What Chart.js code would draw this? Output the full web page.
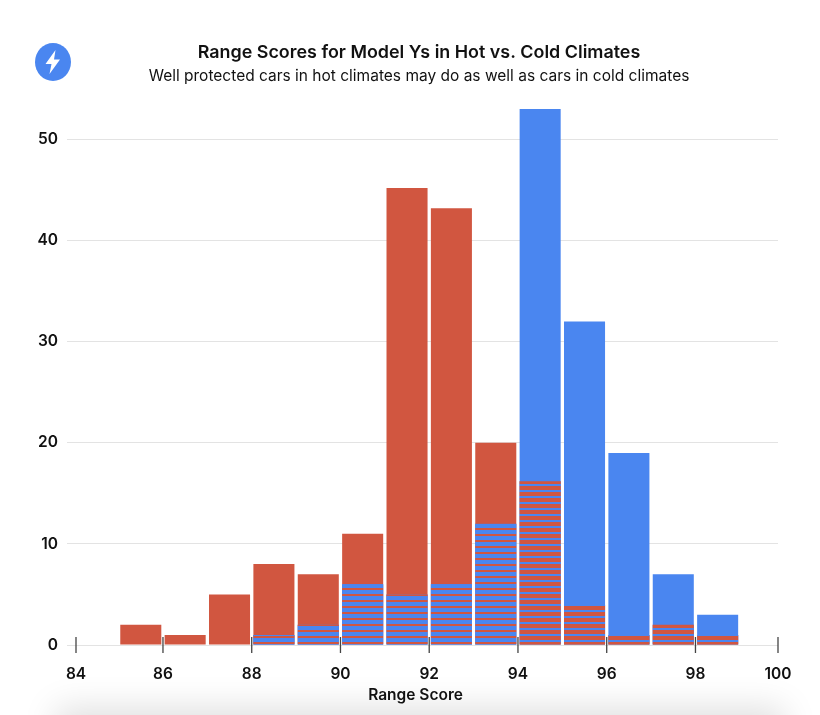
<!DOCTYPE html>
<html>
<head>
<meta charset="utf-8">
<title>Range Scores</title>
<script src="https://cdn.jsdelivr.net/npm/chart.js@4"></script>
<style>
html,body{margin:0;padding:0;background:#fff;overflow:hidden;width:820px;height:715px}
#wrap{position:relative;width:820px;height:715px;overflow:hidden}
canvas{position:absolute;left:0;top:0}
#shade{position:absolute;left:70px;right:50px;top:722px;height:40px;box-shadow:0 0 34px 14px rgba(0,0,0,.13);background:#ddd}
#icon{position:absolute;left:35px;top:43px;width:36px;height:38px}
</style>
</head>
<body>
<div id="wrap">
<div id="shade"></div>
<canvas id="c" width="820" height="715"></canvas>
<svg id="icon" viewBox="0 0 36 38"><ellipse cx="18" cy="19" rx="18" ry="19" fill="#4a86f0"/><path d="M20.5 7 L10.5 21 H16.5 L14.5 31 L25 16.5 H19 Z" fill="#fff"/></svg>
</div>
<script>
const binCenters = [84.5,85.5,86.5,87.5,88.5,89.5,90.5,91.5,92.5,93.5,94.5,95.5,96.5,97.5,98.5,99.5];
const hot  = [0,2,1,5,8,7,11,45.2,43.2,20,16.2,4,1,2,1,0];
const cold = [0,0,0,0,1,2,6,5,6,12,53,32,19,7,3,0];
const overlap = [0,0,0,0,1,2,6,5,6,12,16.2,4,1,2,1,0];
const overlapTopColor = ['cold','cold','cold','cold','cold','cold','cold','cold','cold','cold','hot','hot','hot','hot','hot','hot'];
const xTicks = [84.04,86,88,90,92,94,96,98,99.86];
const xTickLabels = ['84','86','88','90','92','94','96','98','100'];
const yTicks = [0,10,20,30,40,50];
const titleText = 'Range Scores for Model Ys in Hot vs. Cold Climates';
const subtitleText = 'Well protected cars in hot climates may do as well as cars in cold climates';
const xLabel = 'Range Score';

const RED = '#d15640', BLUE = '#4a86f0', FONT = 'Inter, "Noto Sans", sans-serif', INK = '#111';

function stripes(redPx, bluePx){
  const p = document.createElement('canvas');
  p.width = 4; p.height = redPx + bluePx;
  const g = p.getContext('2d');
  g.fillStyle = RED; g.fillRect(0,0,4,redPx);
  g.fillStyle = BLUE; g.fillRect(0,redPx,4,bluePx);
  return g.createPattern(p,'repeat');
}
const patCold = stripes(2,4), patHot = stripes(4,2);

const barCommon = {barPercentage:0.925, categoryPercentage:1, grouped:false, borderWidth:0};
const series = vals => vals.map((v,i)=>({x:binCenters[i],y:v}));

const overlays = {
  id:'overlays',
  afterDatasetsDraw(chart){
    const {ctx, scales:{x,y}} = chart;
    const y0 = y.getPixelForValue(0);
    ctx.save();
    ctx.strokeStyle = '#444'; ctx.lineWidth = 1.3;
    xTicks.forEach(v=>{
      const px = x.getPixelForValue(v);
      ctx.beginPath(); ctx.moveTo(px,y0-8); ctx.lineTo(px,y0+8); ctx.stroke();
    });
    ctx.fillStyle = INK; ctx.font = '600 15.5px '+FONT;
    ctx.textAlign = 'center'; ctx.textBaseline = 'middle';
    ctx.fillText(xLabel,(chart.chartArea.left+chart.chartArea.right)/2-11.5,y0+50);
    ctx.restore();
  }
};

new Chart(document.getElementById('c'),{
  type:'bar',
  data:{datasets:[
    {label:'Hot',data:series(hot),backgroundColor:RED,order:3,...barCommon},
    {label:'Cold',data:series(cold),backgroundColor:BLUE,order:2,...barCommon},
    {label:'Both',data:series(overlap),backgroundColor:overlapTopColor.map(k=>k==='cold'?patCold:patHot),order:1,...barCommon}
  ]},
  options:{
    responsive:false,animation:false,
    layout:{padding:{left:18,right:0,top:0,bottom:0}},
    plugins:{
      legend:{display:false},tooltip:{enabled:false},
      title:{display:true,text:titleText,color:INK,font:{family:FONT,size:17.9,weight:'600'},padding:{top:42,bottom:4}},
      subtitle:{display:true,text:subtitleText,color:INK,font:{family:FONT,size:15.5,weight:'400'},padding:{top:0,bottom:23}}
    },
    scales:{
      x:{type:'linear',position:'bottom',min:84.04,max:99.86,offset:false,
        afterBuildTicks(s){s.ticks=xTicks.map(value=>({value}));},
        afterFit(s){s.height=70;},
        grid:{display:false,drawTicks:false},border:{display:false},
        ticks:{color:INK,padding:20,maxRotation:0,autoSkip:false,font:{family:FONT,size:15.5,weight:'600'},
          callback(v){return xTickLabels[xTicks.indexOf(v)];}}},
      y:{type:'linear',position:'left',min:0,max:53,
        afterBuildTicks(s){s.ticks=yTicks.map(value=>({value}));},
        afterFit(s){s.width=58;},
        grid:{color:'#e3e3e3',tickLength:9,lineWidth:1},border:{display:false},
        ticks:{color:INK,padding:9,font:{family:FONT,size:15.5,weight:'600'}}},
      rightGutter:{type:'linear',position:'right',min:0,max:1,
        afterFit(s){s.width=42;},
        grid:{display:false,drawTicks:false},border:{display:false},ticks:{display:false}}
    }
  },
  plugins:[overlays]
});
</script>
</body>
</html>
